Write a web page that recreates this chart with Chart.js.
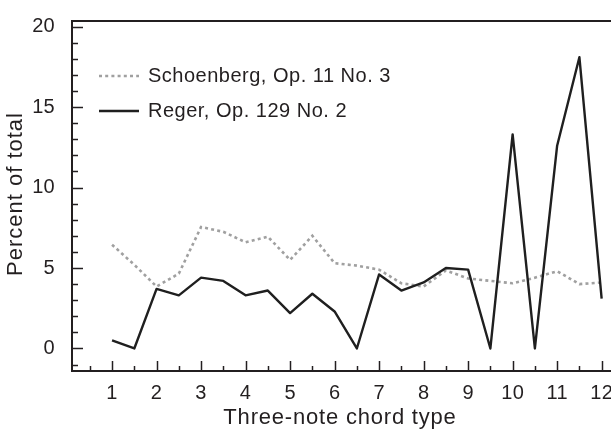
<!DOCTYPE html>
<html>
<head>
<meta charset="utf-8">
<script src="https://cdn.jsdelivr.net/npm/chart.js@4.4.1/dist/chart.umd.min.js"></script>
<style>
    html, body { margin: 0; padding: 0; background: #fff; overflow: hidden; }
    #wrap { width: 611px; height: 435px; overflow: hidden; }
    canvas { display: block; }
</style>
</head>
<body>
<div id="wrap">
    <canvas id="chordChart" width="620" height="435"></canvas>
</div>
<script>
// chord types, read at half steps
const chordTypes = [1, 1.5, 2, 2.5, 3, 3.5, 4, 4.5, 5, 5.5, 6, 6.5, 7, 7.5, 8, 8.5, 9, 9.5, 10, 10.5, 11, 11.5, 12];

// percent of total for each piece
const schoenberg = [6.45, 5.2, 3.85, 4.65, 7.55, 7.25, 6.6, 6.95, 5.5, 7.0, 5.3, 5.15, 4.9, 4.05, 3.85, 4.85, 4.35, 4.2, 4.05, 4.4, 4.8, 4.0, 4.1];
const reger = [0.5, 0, 3.7, 3.3, 4.4, 4.2, 3.3, 3.6, 2.2, 3.4, 2.3, 0, 4.6, 3.6, 4.1, 5.0, 4.9, 0, 13.3, 0, 12.6, 18.1, 3.1];

const seriesNames = ['Schoenberg, Op. 11 No. 3', 'Reger, Op. 129 No. 2'];

// tick labels
const xTickLabels = [1, 2, 3, 4, 5, 6, 7, 8, 9, 10, 11, 12];
const yTickLabels = [0, 5, 10, 15, 20];

const xTitle = 'Three-note chord type';
const yTitle = 'Percent of total';

const inkColor = '#231f20';
const fontFamily = '"Liberation Sans", Arial, Helvetica, sans-serif';

Chart.defaults.font.family = fontFamily;
Chart.defaults.color = inkColor;

function toPoints(values) {
    return chordTypes.map((x, i) => ({ x: x, y: values[i] }));
}

// draws inward ticks, top frame, legend and axis titles
const decorPlugin = {
    id: 'decor',
    beforeDraw(chart) {
        chart.ctx.letterSpacing = '0.3px';
    },
    afterDraw(chart) {
        const ctx = chart.ctx;
        const area = chart.chartArea;
        const xs = chart.scales.x;
        const ys = chart.scales.y;

        ctx.save();
        ctx.strokeStyle = inkColor;

        // top frame
        ctx.lineWidth = 2;
        ctx.beginPath();
        ctx.moveTo(area.left - 1, area.top);
        ctx.lineTo(chart.width, area.top);
        ctx.stroke();

        // y ticks, pointing inward
        ctx.lineWidth = 1.5;
        for (let v = Math.ceil(ys.min); v <= ys.max; v++) {
            const py = Math.round(ys.getPixelForValue(v)) + 0.5;
            const len = v % 5 === 0 ? 11 : 6;
            ctx.beginPath();
            ctx.moveTo(area.left, py);
            ctx.lineTo(area.left + len, py);
            ctx.stroke();
        }

        // x ticks, pointing inward
        for (let v = Math.ceil(xs.min * 2) / 2; v <= xs.max; v += 0.5) {
            const px = Math.round(xs.getPixelForValue(v)) + 0.5;
            const len = Number.isInteger(v) ? 10 : 5;
            ctx.beginPath();
            ctx.moveTo(px, area.bottom);
            ctx.lineTo(px, area.bottom - len);
            ctx.stroke();
        }

        // legend inside the plot
        ctx.font = '20px ' + fontFamily;
        ctx.letterSpacing = '0.5px';
        ctx.fillStyle = inkColor;
        ctx.textBaseline = 'middle';
        ctx.textAlign = 'left';
        const legendRows = [
            { ds: chart.data.datasets[1], y: 76 },
            { ds: chart.data.datasets[0], y: 111 }
        ];
        legendRows.forEach(row => {
            ctx.save();
            ctx.strokeStyle = row.ds.borderColor;
            ctx.lineWidth = row.ds.borderWidth;
            ctx.setLineDash(row.ds.borderDash || []);
            ctx.beginPath();
            ctx.moveTo(area.left + 27, row.y);
            ctx.lineTo(area.left + 67, row.y);
            ctx.stroke();
            ctx.restore();
            ctx.fillText(row.ds.label, area.left + 76, row.y);
        });

        // x axis title
        ctx.font = '22px ' + fontFamily;
        ctx.letterSpacing = '0.8px';
        ctx.textAlign = 'center';
        ctx.fillText(xTitle, 340, 418);

        // y axis title
        ctx.font = '22px ' + fontFamily;
        ctx.letterSpacing = '1px';
        ctx.translate(16, 194);
        ctx.rotate(-Math.PI / 2);
        ctx.fillText(yTitle, 0, 0);

        ctx.restore();
    }
};

const ctx = document.getElementById('chordChart').getContext('2d');
const chordChart = new Chart(ctx, {
    type: 'line',
    data: {
        datasets: [
            {
                label: seriesNames[1],
                data: toPoints(reger),
                borderColor: '#1f1f1f',
                borderWidth: 2.4,
                borderJoinStyle: 'round',
                pointRadius: 0,
                tension: 0
            },
            {
                label: seriesNames[0],
                data: toPoints(schoenberg),
                borderColor: '#a0a0a0',
                borderWidth: 2.6,
                borderDash: [3, 3.2],
                borderCapStyle: 'butt',
                pointRadius: 0,
                tension: 0
            }
        ]
    },
    options: {
        responsive: false,
        animation: false,
        events: [],
        layout: { padding: { top: 10, right: 5, left: 0, bottom: 0 } },
        plugins: {
            legend: { display: false },
            tooltip: { enabled: false }
        },
        scales: {
            x: {
                type: 'linear',
                min: 0.1,
                max: 12.3,
                grid: { display: false },
                border: { display: true, color: inkColor, width: 2 },
                ticks: { font: { size: 20 }, padding: 2, color: inkColor },
                afterBuildTicks: scale => { scale.ticks = xTickLabels.map(v => ({ value: v })); },
                afterFit: scale => { scale.height = 64; }
            },
            y: {
                type: 'linear',
                min: -1.4,
                max: 20.35,
                grid: { display: false },
                border: { display: true, color: inkColor, width: 2 },
                ticks: { font: { size: 20 }, padding: 9, color: inkColor },
                afterBuildTicks: scale => { scale.ticks = yTickLabels.map(v => ({ value: v })); },
                afterFit: scale => { scale.width = 72; }
            }
        }
    },
    plugins: [decorPlugin]
});
</script>
</body>
</html>
